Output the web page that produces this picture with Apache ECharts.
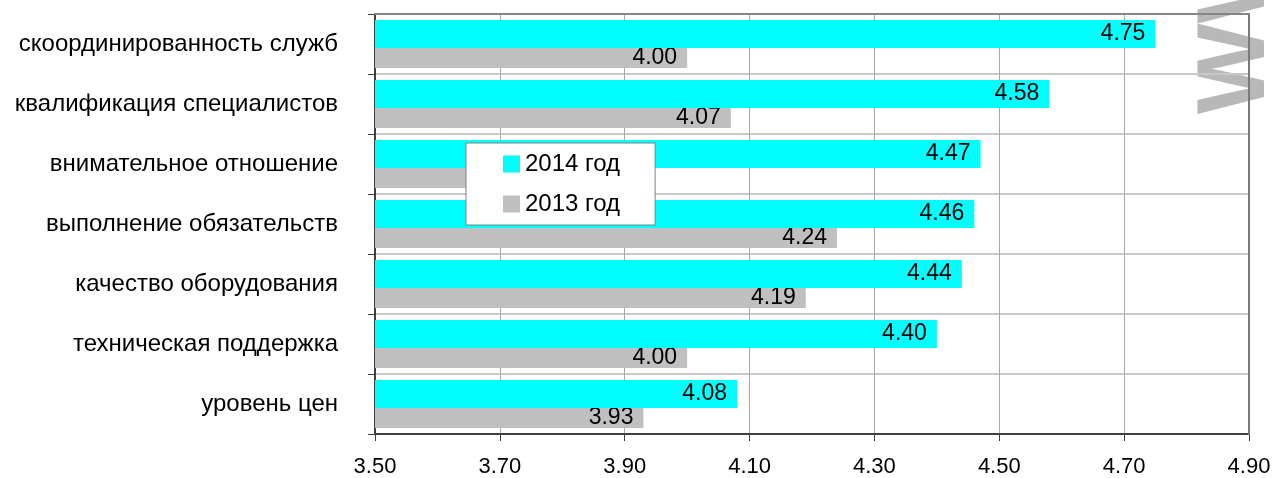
<!DOCTYPE html>
<html>
<head>
<meta charset="utf-8">
<script src="https://cdn.jsdelivr.net/npm/echarts@6/dist/echarts.min.js"></script>
<style>
  html, body { margin: 0; padding: 0; background: #fff; }
  #chart { width: 1274px; height: 478px; }
</style>
</head>
<body>
<div id="chart"></div>
<script>
// Оценки по направлениям, 2014 и 2013 годы
const categories = [
  'скоординированность служб',
  'квалификация специалистов',
  'внимательное отношение',
  'выполнение обязательств',
  'качество оборудования',
  'техническая поддержка',
  'уровень цен'
];
const values2014 = [4.75, 4.58, 4.47, 4.46, 4.44, 4.40, 4.08];
const values2013 = [4.00, 4.07, 3.88, 4.24, 4.19, 4.00, 3.93];
const seriesNames = ['2014 год', '2013 год'];
const axisMin = 3.5;
const axisMax = 4.9;
const axisStep = 0.2;

const FONT = 'Liberation Sans, Arial, sans-serif';

const chart = echarts.init(document.getElementById('chart'), null, { renderer: 'canvas' });

function valueLabel(dy) {
  return {
    show: true,
    position: 'insideRight',
    distance: 10,
    offset: [0, dy],
    color: '#000',
    fontFamily: FONT,
    fontSize: 23,
    formatter: p => p.value.toFixed(2)
  };
}

chart.setOption({
  animation: false,
  backgroundColor: '#fff',
  textStyle: { fontFamily: FONT },
  grid: { left: 375, right: 25, top: 14, bottom: 43, containLabel: false },
  legend: {
    data: seriesNames,
    orient: 'vertical',
    left: 466,
    top: 143,
    padding: [9, 35, 9, 37],
    itemWidth: 17,
    itemHeight: 17,
    itemGap: 16,
    icon: 'rect',
    backgroundColor: '#fff',
    borderColor: '#808080',
    borderWidth: 1,
    z: 10,
    textStyle: { color: '#000', fontFamily: FONT, fontSize: 24 }
  },
  xAxis: [
    {
      type: 'value',
      min: axisMin,
      max: axisMax,
      interval: axisStep,
      axisLine: { show: true, lineStyle: { color: '#404040', width: 2 } },
      axisTick: { show: true, length: 7, lineStyle: { color: '#404040', width: 1 } },
      axisLabel: {
        color: '#000', fontFamily: FONT, fontSize: 22, margin: 22,
        formatter: v => v.toFixed(2)
      },
      splitLine: { show: true, lineStyle: { color: '#a8a8a8', width: 1 } }
    },
    {
      // верхняя рамка области построения
      type: 'value',
      position: 'top',
      min: axisMin,
      max: axisMax,
      z: 3,
      axisLine: { show: true, lineStyle: { color: '#858585', width: 2 } },
      axisTick: { show: false },
      axisLabel: { show: false },
      splitLine: { show: false }
    }
  ],
  yAxis: [
    {
      type: 'category',
      data: categories,
      inverse: true,
      axisLine: { show: true, lineStyle: { color: '#404040', width: 2 } },
      axisTick: { show: true, length: 7, lineStyle: { color: '#404040', width: 1 } },
      axisLabel: { color: '#000', fontFamily: FONT, fontSize: 24, margin: 37 },
      splitLine: { show: true, lineStyle: { color: '#c8c8c8', width: 2 } }
    },
    {
      // правая рамка области построения
      type: 'value',
      position: 'right',
      z: 3,
      axisLine: { show: true, lineStyle: { color: '#7a7a7a', width: 2 } },
      axisTick: { show: false },
      axisLabel: { show: false },
      splitLine: { show: false }
    }
  ],
  graphic: [
    {
      type: 'text',
      z: -1,
      silent: true,
      x: 1190,
      y: 114,
      rotation: Math.PI / 2,
      style: {
        text: 'WW',
        fontFamily: FONT,
        fontWeight: 'bold',
        fontSize: 96,
        fill: '#b8b8b8',
        textVerticalAlign: 'top'
      }
    }
  ],
  series: [
    {
      name: seriesNames[0],
      type: 'bar',
      data: values2014,
      barWidth: 28,
      barGap: '-28%',
      z: 3,
      itemStyle: { color: '#00ffff' },
      label: valueLabel(0)
    },
    {
      name: seriesNames[1],
      type: 'bar',
      data: values2013,
      barWidth: 28,
      barGap: '-28%',
      z: 2,
      itemStyle: { color: '#c0c0c0' },
      label: valueLabel(4)
    }
  ]
});
</script>
</body>
</html>
